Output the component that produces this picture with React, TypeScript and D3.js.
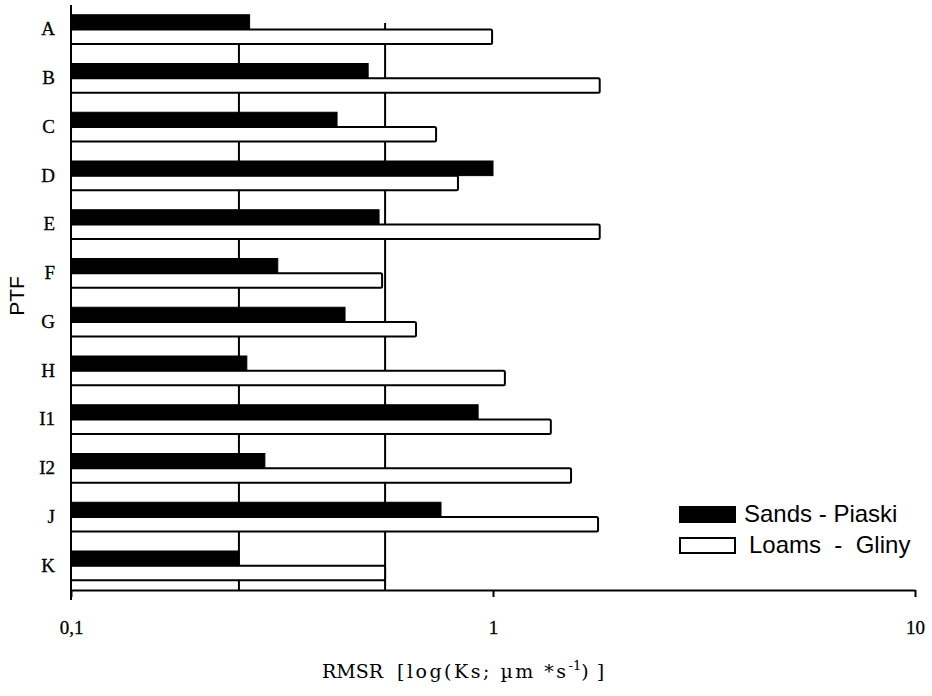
import React, { useEffect, useRef } from 'react';
import * as d3 from 'd3';

// PTF names, top to bottom
const ptfNames = ['A', 'B', 'C', 'D', 'E', 'F', 'G', 'H', 'I1', 'I2', 'J', 'K'];
// RMSR values (log scale)
const sandValues = [0.265, 0.506, 0.427, 1.0, 0.537, 0.309, 0.446, 0.261, 0.922, 0.288, 0.753, 0.25];
const loamValues = [0.995, 1.79, 0.733, 0.826, 1.79, 0.546, 0.657, 1.067, 1.371, 1.531, 1.774, 0.555];
// vertical reference lines
const refLines = [0.25, 0.555];
const xTicks = [0.1, 1, 10];
const xTickLabels = ['0,1', '1', '10'];

const W = 932;
const H = 696;

const App = () => {
    const ref = useRef<SVGSVGElement>(null);

    useEffect(() => {
        const svg = d3.select(ref.current);
        svg.selectAll('*').remove();

        const x = d3.scaleLog().domain([0.1, 10]).range([71, 915]);
        const y = d3.scaleBand().domain(ptfNames).range([5, 590]).padding(0);
        const barH = y.bandwidth() * 0.3;
        const rows = ptfNames.map((name, i) => ({ name, sand: sandValues[i], loam: loamValues[i] }));

        // reference lines
        svg.append('g')
            .selectAll('line')
            .data(refLines)
            .join('line')
            .attr('x1', d => x(d)).attr('x2', d => x(d))
            .attr('y1', 23).attr('y2', 590)
            .attr('stroke', '#000').attr('stroke-width', 2);

        // loam bars (white, outlined)
        svg.append('g')
            .selectAll('rect')
            .data(rows)
            .join('rect')
            .attr('x', x(0.1))
            .attr('y', d => y(d.name)! + y.bandwidth() / 2)
            .attr('width', d => x(d.loam) - x(0.1))
            .attr('height', barH)
            .attr('rx', 1.5)
            .attr('fill', '#fff')
            .attr('stroke', '#000')
            .attr('stroke-width', 2);

        // sand bars (black)
        svg.append('g')
            .selectAll('rect')
            .data(rows)
            .join('rect')
            .attr('x', x(0.1))
            .attr('y', d => y(d.name)! + y.bandwidth() / 2 - barH)
            .attr('width', d => x(d.sand) - x(0.1))
            .attr('height', barH)
            .attr('fill', '#000')
            .attr('stroke', '#000')
            .attr('stroke-width', 1);

        // x axis
        const xAxis = svg.append('g')
            .attr('transform', 'translate(0,590)')
            .call(d3.axisBottom(x)
                .tickValues(xTicks)
                .tickFormat((d, i) => xTickLabels[i])
                .tickSize(7)
                .tickSizeOuter(0)
                .tickPadding(24));
        xAxis.select('.domain').attr('stroke-width', 2);
        xAxis.selectAll('.tick line').attr('stroke-width', 2);
        xAxis.selectAll('text')
            .attr('font-family', '"Liberation Serif", serif')
            .attr('font-size', 19)
            .attr('fill', '#000')
            .attr('stroke', '#000')
            .attr('stroke-width', 0.3);

        // y axis
        const yAxis = svg.append('g')
            .attr('transform', 'translate(71,0)')
            .call(d3.axisLeft(y).tickSize(0).tickPadding(16));
        yAxis.select('.domain').remove();
        yAxis.selectAll('text')
            .attr('font-family', '"Liberation Serif", serif')
            .attr('font-size', 19)
            .attr('fill', '#000')
            .attr('stroke', '#000')
            .attr('stroke-width', 0.3);
        svg.append('line')
            .attr('x1', 71).attr('x2', 71)
            .attr('y1', 5).attr('y2', 600)
            .attr('stroke', '#000').attr('stroke-width', 2);

        // y title
        svg.append('text')
            .attr('transform', 'translate(24,296) rotate(-90)')
            .attr('text-anchor', 'middle')
            .attr('font-family', '"Liberation Sans", Arial, sans-serif')
            .attr('font-size', 21)
            .text('PTF');

        // x title
        const xt = svg.append('text')
            .attr('x', 322).attr('y', 678)
            .attr('font-family', '"DejaVu Serif", serif')
            .attr('font-size', 19);
        xt.append('tspan').text('RMSR');
        xt.append('tspan').attr('x', 397).attr('letter-spacing', 2.5)
            .text('[log(Ks; \u00B5m *s');
        xt.append('tspan').attr('dy', -8).attr('font-size', 13).text('-1');
        xt.append('tspan').attr('dy', 8).attr('letter-spacing', 8).text(')]');

        // legend
        const legend = [
            { label: 'Sands - Piaski', fill: '#000', y: 507, tx: 744 },
            { label: 'Loams  -  Gliny', fill: '#fff', y: 538, tx: 749 },
        ];
        const lg = svg.append('g');
        lg.selectAll('rect')
            .data(legend)
            .join('rect')
            .attr('x', 680).attr('y', d => d.y)
            .attr('width', 55).attr('height', 15)
            .attr('fill', d => d.fill)
            .attr('stroke', '#000').attr('stroke-width', 2);
        lg.selectAll('text')
            .data(legend)
            .join('text')
            .attr('x', d => d.tx).attr('y', d => d.y + 15)
            .attr('font-family', '"Liberation Sans", Arial, sans-serif')
            .attr('font-size', 24)
            .style('white-space', 'pre')
            .text(d => d.label);
    }, []);

    return (
        <div style={{ position: 'absolute', left: 0, top: 0 }}>
            <svg ref={ref} width={W} height={H} style={{ display: 'block', background: '#fff' }} />
        </div>
    );
};

export default App;
